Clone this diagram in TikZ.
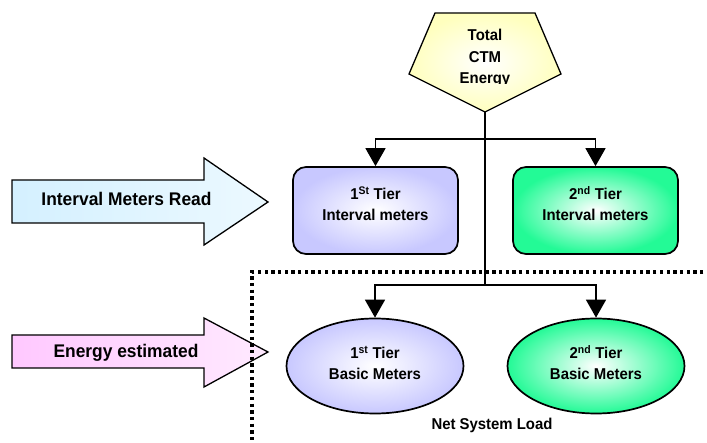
\documentclass[tikz,border=0pt]{standalone}
\usepackage{fontspec}
\setmainfont[FakeStretch=0.95]{Liberation Sans}
\usetikzlibrary{arrows.meta,shapes.geometric}

\definecolor{lav}{RGB}{200,200,255}
\definecolor{mint}{RGB}{35,250,150}
\definecolor{cream}{RGB}{255,255,190}
\definecolor{skyfill}{RGB}{212,240,255}
\definecolor{skylight}{RGB}{236,249,255}
\definecolor{pinkfill}{RGB}{255,200,255}
\definecolor{pinklight}{RGB}{255,234,255}

\newcommand{\supx}[1]{\smash{\textsuperscript{#1}}}

\begin{document}
\begin{tikzpicture}[x=1pt,y=-1pt,
  outline/.style={draw=black,line width=1.7pt},
  label18/.style={font=\fontsize{18.3}{21}\selectfont\bfseries,inner sep=0pt,anchor=base},
  tierbox/.style={outline,rectangle,rounded corners=13pt,minimum width=165pt,
    minimum height=87pt,inner sep=0pt,align=center,text depth=11.7pt,
    font=\fontsize{15.7}{20.7}\selectfont\bfseries,shading=radial,inner color=white},
  tierell/.style={outline,ellipse,minimum width=177pt,minimum height=95pt,
    inner sep=0pt,align=center,text depth=5.8pt,
    font=\fontsize{15.7}{21}\selectfont\bfseries,shading=radial,inner color=white},
  conn/.style={line width=1.5pt},
  downtip/.style={-{Triangle[width=20pt,length=18pt]}},
  boundary/.style={line width=3.2pt,dash pattern=on 3.3pt off 3.4pt}
]
\useasboundingbox (0,0) rectangle (707,443);

% "Total CTM Energy" pentagon
\draw[outline,line width=1.3pt,shading=radial,inner color=white,outer color=cream]
  (435,13) -- (535,13) -- (561,74) -- (485,112) -- (409,74) -- cycle;
\coordinate (totalTip) at (485,112);
\begin{scope}
  \clip (400,0) rectangle (575,84);
  \node[align=center,inner sep=0pt,font=\fontsize{15.7}{21.5}\selectfont\bfseries]
    (total) at (485,58.2) {Total\\CTM\\Energy};
\end{scope}

% Side arrows
\draw[outline,line width=1.3pt,left color=skyfill,right color=skylight]
  (12,180) -- (204,180) -- (204,158) -- (268,202) -- (204,245) -- (204,223) -- (12,223) -- cycle;
\node[label18] (readLbl) at (126.5,205.7) {Interval Meters Read};

\draw[outline,line width=1.3pt,left color=pinkfill,right color=pinklight]
  (12,335) -- (204,335) -- (204,318) -- (268,352) -- (204,387) -- (204,368) -- (12,368) -- cycle;
\node[label18] (estLbl) at (126,358) {Energy estimated};

% Net system load boundary
\draw[boundary] (710,272) -- (252,272) -- (252,446);

% Interval meters
\node[tierbox,outer color=lav]  (iv1) at (375.5,210.5) {1\supx{St} Tier\\Interval meters};
\node[tierbox,outer color=mint] (iv2) at (595.5,210.5) {2\supx{nd} Tier\\Interval meters};

% Basic meters
\node[tierell,outer color=lav]  (bm1) at (375,366) {1\supx{st} Tier\\Basic Meters};
\node[tierell,outer color=mint] (bm2) at (596,366) {2\supx{nd} Tier\\Basic Meters};

\node[font=\fontsize{15.7}{18}\selectfont\bfseries,inner sep=0pt,anchor=base]
  (netLbl) at (492,430) {Net System Load};

% Connectors
\coordinate (split1) at (485,139);
\coordinate (split2) at (485,285);
\draw[conn] (totalTip) -- (split2);
\draw[conn,downtip] (split1) -| (iv1.north);
\draw[conn,downtip] (split1) -| (iv2.north);
\draw[conn,downtip] (split2) -| (bm1.north);
\draw[conn,downtip] (split2) -| (bm2.north);
\end{tikzpicture}
\end{document}
